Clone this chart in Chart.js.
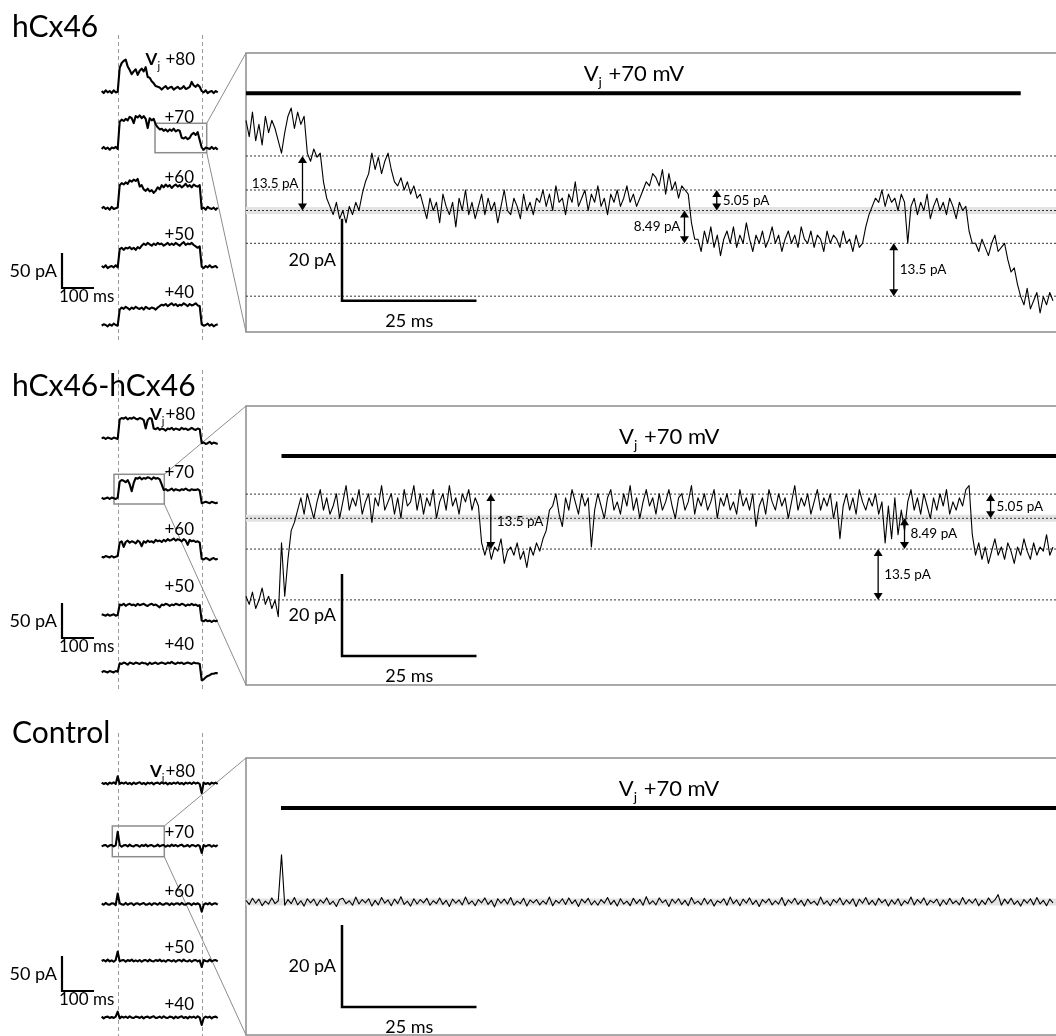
<!DOCTYPE html>
<html>
<head>
<meta charset="UTF-8" />
<title>hCx46 single channel currents</title>
<script src="https://cdn.jsdelivr.net/npm/chart.js"></script>
<style>
  html, body { margin: 0; padding: 0; background: #fff; overflow: hidden; }
  #fig { display: block; }
</style>
</head>
<body>
<canvas id="fig" width="1056" height="1036"></canvas>
<script>
  // ---- data -------------------------------------------------------------
  // small traces: pA above holding level, one sample every 6.25 ms
  const smallDt = 6.25;
  const smallPulse = [52, 312.5];          // ms from trace start
  const vjSteps = ['+80', '+70', '+60', '+50', '+40'];

  // hCx46
  const hc80 = [1,-2,2,-1,1,-2,2,-1,0,
    34,41,44,46,36,31,25,29,32,24,30,33,29,35,21,20,15,12,8,7,6,3,6,8,4,6,7,3,5,7,4,5,8,4,5,7,14,9,7,10,7,
    1,-1,2,-2,0,1,-2,1,-1];
  const hc70 = [-1,2,-1,1,-2,1,0,2,-1,
    38,41,39,42,40,45,43,36,46,44,47,43,46,42,29,43,40,42,34,30,27,28,25,27,24,27,25,28,24,26,25,15,14,16,13,15,20,22,19,23,12,
    1,-2,1,0,-1,2,-1,1,-2];
  const hc60 = [0,2,-1,1,-2,2,-1,0,1,
    33,36,34,37,35,40,38,41,39,42,31,33,27,25,28,24,26,22,25,30,27,33,30,34,31,33,29,32,34,31,33,30,32,35,31,33,30,34,32,31,33,
    -1,1,-2,2,0,-1,1,-2,1];
  const hc50 = [1,-1,2,-2,0,1,-1,2,-1,
    25,27,24,27,26,28,25,27,24,28,26,30,33,31,34,32,30,33,31,34,32,33,30,32,34,31,33,31,34,32,30,33,35,31,33,32,34,31,29,27,29,
    0,-2,1,-1,2,-1,0,1,-2];
  const hc40 = [-1,1,0,-2,1,-1,2,0,-1,
    22,25,23,26,24,22,25,23,26,24,23,25,22,26,24,23,25,24,22,25,27,29,28,30,27,29,31,28,30,27,29,28,31,29,27,30,28,29,31,28,27,
    1,-1,0,2,-1,1,-2,0,1];

  // hCx46-hCx46
  const gj80 = [0,1,-1,1,0,-1,1,0,-1,
    27,29,28,30,27,29,28,30,28,27,29,28,26,14,26,29,28,14,13,15,12,14,13,11,14,13,15,12,14,13,12,15,13,14,12,13,15,13,12,14,13,
    -7,-6,-8,-7,-5,-8,-6,-7,-8];
  const gj70 = [1,-1,0,1,-1,1,0,-1,1,
    24,26,25,23,26,20,10,22,29,28,30,27,29,28,30,29,27,30,28,29,27,20,12,13,11,12,14,11,13,12,11,13,12,14,12,11,13,12,12,13,11,
    -7,-6,-5,-6,-7,-5,-6,-7,-6];
  const gj60 = [0,-1,1,0,-1,1,-1,0,1,
    20,22,14,21,23,20,22,21,19,23,21,15,22,20,23,21,22,20,24,22,23,21,24,22,25,23,24,26,23,25,24,22,25,23,17,24,22,23,21,22,20,
    -3,-4,-2,-3,-5,-3,-2,-4,-3];
  const gj50 = [1,0,-1,1,-1,0,1,-1,0,
    15,14,16,13,15,16,14,15,13,16,14,15,16,14,13,15,16,14,15,13,11,15,14,16,15,13,15,14,16,15,14,16,15,13,15,14,16,14,15,13,14,
    -8,-9,-7,-9,-8,-10,-8,-9,-8];
  const gj40 = [-1,1,0,-1,1,0,-1,1,0,
    12,11,13,12,10,13,12,11,13,12,11,13,12,12,10,13,11,12,13,11,12,13,12,11,13,12,14,12,11,13,12,13,11,12,13,12,11,13,12,12,11,
    -12,-11,-8,-6,-5,-3,-3,-2,-2];

  // Control
  const ct80 = [1,-1,0.5,-1.5,1,-0.5,1.5,-1, 10,
    -1,1,-0.5,1.5,-1,0.5,-1.5,1,-1,0.5, 1.5,-1,0.5,-1.5,1,-0.5,1,-1.5,0.5,1,
    -1,1.5,-0.5,1,-1.5,0.5,-1,1,-0.5,1.5, -1,0.5,-1.5,1,-0.5,1,-1,1.5,-0.5,1, -1,
    -14, 1,-1,0.5,-1.5,1,-0.5,1,-1];
  const ct70 = [-1,0.5,1,-1.5,0.5,1,-1,0.5, 20,
    1,-1.5,0.5,1,-1,1.5,-0.5,-1,1,0.5, -1.5,1,-0.5,1.5,-1,0.5,1,-1,-0.5,1.5,
    -1,0.5,1,-1.5,0.5,-1,1.5,-0.5,1,-1, 0.5,1.5,-1,-0.5,1,-1.5,1,0.5,-1,1, -0.5,
    -10.5, 1,-1,0.5,1,-1.5,0.5,-1,1];
  const ct60 = [0.5,-1,1.5,-0.5,-1,1,0.5,-1.5, 15,
    1,-0.5,-1,1.5,-1,0.5,1,-1.5,0.5,1, -1,0.5,1.5,-1,-0.5,1,-1.5,1,0.5,-1,
    1.5,-0.5,-1,1,0.5,-1.5,1,-1,0.5,1, -1,1.5,-0.5,-1,1,0.5,-1.5,1,-0.5,1, -1,
    -11, -1,1,-0.5,1.5,-1,0.5,1,-1];
  const ct50 = [-0.5,1,-1,1.5,-1,0.5,-1.5,1, 13,
    -1,0.5,1,-1.5,1,-0.5,1.5,-1,0.5,-1, 1,-1.5,0.5,1,-1,1.5,-0.5,-1,1,-0.5,
    1.5,-1,0.5,-1.5,1,0.5,-1,1,-1.5,0.5, 1,-1,1.5,-0.5,-1,1,-1.5,0.5,1,-1, 0.5,
    -9, 1,-0.5,-1,1.5,-1,0.5,1,-1];
  const ct40 = [1,-1.5,0.5,1,-1,0.5,-1,1, 8,
    -1.5,1,-0.5,1,-1,1.5,-0.5,-1,1,0.5, -1,1,-1.5,0.5,1,-1,0.5,1.5,-1,-0.5,
    1,-1,1.5,-0.5,-1,1,0.5,-1.5,1,-1, 0.5,1.5,-1,0.5,-1.5,1,-0.5,1,-1,1.5, -0.5,
    -11, -1,1,-0.5,1,-1.5,0.5,1,-1];

  // expanded +70 mV records: pA from the grey reference level, one sample every 0.6 ms
  const zoomDt = 0.6;
  const hcZoom = [22,18,24,17,21,16,23,19,22,20,17,14,19,23,25,20,24,21,23,
    14,12,15,13,14, 7,3, 1,-1,2,-2,0,-3,1,-1,2,0, 4,7,9, 14,10,13,9,12,14,10, 7, 6,8,5,7,4,6,3,4,
    1,-2,3,0,2,-3,4,1,-1,2,-4,3,0,5,-1,2,-2,1,4,-1,3,0,2,-3,1,5,0,-1,3,1,-2,4,0,2,-1,3,
    2,5,1,4,0,6,2,3,-1,4,2,7,1,3,5,0,4,2,6,1,3,-1,4,2,5,1,3,6,2,4,1,3,
    5,7,6,9,8, 6,10,4,9,5,7,3,6,5,4, -3,-7,
    -7,-10,-5,-8,-4,-9,-6,-11,-7,-5,-8,-4,-9,-6,-8,-3,-7,-10,-6,-8,-5,-9,-7,-4,-8,-6,-10,-7,-5,-8,
    -6,-9,-4,-7,-8,-5,-9,-6,-7,-10,-5,-8,-6,-7,-9,-5,-8,-7,-10,-6,-9,-8,
    -4,-1,1,3, 2,5,1,4,2,3,0,4,2, -8, 1,3,-1,2,0,4,-2,1,3,0,2,-1,3,1,-2,2,0,1,
    -5,-8, -8,-10,-7,-9,-11,-8,-6,-10,-9,-8, -12,-15,-14,-18,
    -21,-23,-19,-24,-22,-20,-25,-21,-23,-20,-22];
  const gjZoom = [-19,-21,-18,-22,-20,-17,-21,-19,-22,-20, -24,-6,-19, -10,-3,-1,
    2,5,1,6,3,0,4,7,2,5,1,3,6,0,4,8,2,5,3,7,1,4,6,-1,5,3,8,2,4,6,1,5,0,7,3,4,8,2,6,1,5,3,7,0,4,6,2,8,3,5,1,6,4,7,2,5,3,
    -6, -9,-6,-10,-7,-8,-5,-11,-8,-7,-9,-6,-10,-8,-12,-7,-9,-6,-8,-5, -3,2,
    3,6,1,-2,5,2,7,4,1,6, 3,5,-7,2,6,3,0,5,7,2, 4,1,6,3,8,2,5,0,4,7, 3,5,1,6,2,4,7,3,0,5,
    6,2,4,8,1,5,3,6,2,4, 7,0,5,3,6,2,4,1,7,3, 5,2,6,-2,3,5,1,7,4,2, 6,3,5,0,4,8,2,5,3,6,
    1,4,7,2,5,3,6,0,4,-5, 3,6,2,5,1,7,4,2,5,3, 6,1,4,-6,3,-5,5,-4,2,-3, 4,7,2,5,1,6,3,0,5,2,
    6,3,7,1,4,2,5,3,7,
    8,-4,
    -9,-6,-10,-7,-11,-8,-5,-9,-7,-10,-6,-8,-11,-7,-9,-5,-8,-10,-6,-9,-7,-8,-4,-9,-7];
  const ctZoom = [0.4,-0.6,0.9,-0.3,0.7,-0.9,0.2,-0.5,1.0,-0.4,
    0.3,11.5,-0.8,0.6,-0.4,1.1,-0.7,0.3,-1.0,0.8, -0.2,0.7,-0.9,0.5,-0.3,1.0,-0.6,0.2,-1.1,0.6,
    0.9,-0.4,0.3,-0.8,1.2,-0.5,0.6,-0.2,0.8,-1.0, 0.4,-0.7,1.1,-0.3,0.5,-0.9,0.7,-0.4,1.3,-0.6,
    0.2,-1.0,0.8,-0.5,0.6,-0.2,0.9,-0.8,0.3,-0.4, 1.0,-0.6,0.4,-1.1,0.7,-0.3,0.5,-0.7,1.2,-0.5,
    0.3,-0.9,0.6,-0.2,1.0,-0.6,0.4,-1.2,0.8,-0.3, 0.7,-0.5,1.1,-0.8,0.2,-0.4,0.9,-1.0,0.5,-0.2,
    0.6,-0.7,0.3,-0.5,1.2,-0.9,0.4,-0.3,0.8,-0.6, 1.0,-0.4,0.5,-1.1,0.7,-0.2,0.9,-0.7,0.3,-0.8,
    0.6,-0.3,1.1,-0.6,0.4,-1.0,0.8,-0.5,0.2,-0.9, 0.9,-0.4,0.6,-0.8,1.3,-0.5,0.3,-0.7,1.0,-0.2,
    0.5,-1.1,0.7,-0.3,0.8,-0.6,0.4,-0.9,1.1,-0.4, 0.2,-0.7,0.9,-0.5,0.6,-1.0,0.3,-0.2,0.8,-0.8,
    1.2,-0.4,0.5,-0.9,0.7,-0.3,1.0,-0.6,0.4,-1.1, 0.6,-0.2,0.8,-0.7,0.3,-0.5,1.1,-0.9,0.5,-0.3,
    0.9,-0.6,0.4,-1.0,0.7,-0.4,0.2,-0.8,1.2,-0.5, 0.3,-0.9,0.6,-0.2,1.0,-0.7,0.5,-0.4,0.8,-1.1,
    0.7,-0.3,1.1,-0.6,0.4,-0.8,0.9,-0.2,0.6,-1.0, 0.5,-0.5,0.8,-0.9,0.3,-0.4,1.2,-0.7,0.6,-0.3,
    1.0,-0.8,0.4,-0.2,0.7,-1.0,0.5,-0.6,0.9,-0.4, 0.3,-0.7,1.1,-0.5,0.6,-0.3,0.8,-0.9,0.4,-0.6,
    1.0,-0.2,0.5,1.8,-0.8,0.7,-0.4,0.9,-0.6,0.3, -1.0,0.6,-0.3,0.8,-0.7,1.1,-0.5,0.4,-0.9,0.7, -0.2];

  // current levels (pA) and Vj pulse (ms) in the expanded records
  const hcLevels = [13.3, 5.0, 0, -8.0, -20.9];
  const gjLevels = [5.9, 0, -7.5, -19.9];
  const hcPulse = [0, 144];
  const gjPulse = [6.6, 152];
  const ctPulse = [6.5, 152];
  // transitions: [time ms, from pA, to pA, label]
  const hcArrows = [[10.5, 13.3, 0, '13.5 pA'], [87.5, 5.0, 0, '5.05 pA'], [81.5, 0, -8.0, '8.49 pA'], [120.4, -8.0, -20.9, '13.5 pA']];
  const gjArrows = [[45.5, 5.9, -7.5, '13.5 pA'], [138.4, 5.9, 0, '5.05 pA'], [122.4, 0, -7.5, '8.49 pA'], [117.5, -7.5, -19.9, '13.5 pA']];

  // ---- layout -----------------------------------------------------------
  const W = 1056, H = 1036;
  const PX_MS_S = 0.32, PX_PA_S = 0.7, SMALL_X0 = 101.7;
  const PX_MS_Z = 5.38, PX_PA_Z = 4.1, ZOOM_X0 = 246;
  const FONT = 'Lato, "Open Sans", sans-serif';

  const panels = [
    { title: 'hCx46', titleY: 37, small: [hc80, hc70, hc60, hc50, hc40], gap: ' ',
      base: [91.7, 148.3, 208.3, 266.7, 325], labelY: [65, 123, 183, 240, 298],
      zoom: hcZoom, band: 210.5, levels: hcLevels, pulse: hcPulse, arrows: hcArrows,
      sides: ['left', 'right', 'left', 'right'],
      barY: 93.3, boxTop: 53, boxBottom: 332, rect: [155, 123.3, 206.7, 152.7],
      dash: [35, 340], sbS: 288, sbZ: 300.7 },
    { title: 'hCx46-hCx46', titleY: 396, small: [gj80, gj70, gj60, gj50, gj40], gap: '',
      base: [438.3, 498.3, 556.7, 615, 671.7], labelY: [420, 478, 535, 592, 650],
      zoom: gjZoom, band: 518.3, levels: gjLevels, pulse: gjPulse, arrows: gjArrows,
      sides: ['right', 'right', 'right', 'right'],
      barY: 456, boxTop: 406, boxBottom: 685, rect: [114, 474.3, 164.3, 504],
      dash: [370, 690], sbS: 638, sbZ: 656 },
    { title: 'Control', titleY: 742.7, small: [ct80, ct70, ct60, ct50, ct40], gap: '',
      base: [783.3, 845.7, 904, 960.7, 1017.3], labelY: [777, 838, 897, 953, 1010],
      zoom: ctZoom, band: 902, levels: [], pulse: ctPulse, arrows: [], sides: [],
      barY: 808, boxTop: 758, boxBottom: 1035, rect: [112.3, 826, 164.3, 856.7],
      dash: [733, 1036], sbS: 991, sbZ: 1007 }
  ];

  const xZmax = (W - ZOOM_X0) / PX_MS_Z;

  function lineSet(points, xAxisID, yAxisID, extra) {
    return Object.assign({
      data: points, xAxisID, yAxisID,
      borderColor: '#000', borderWidth: 1, pointRadius: 0, tension: 0,
      fill: false, borderJoinStyle: 'round', order: 0
    }, extra);
  }

  const datasets = [];
  panels.forEach(p => {
    p.small.forEach((vals, k) => {
      const off = -p.base[k] / PX_PA_S;
      datasets.push(lineSet(vals.map((v, i) => ({ x: i * smallDt, y: v + off })), 'xS', 'yS', { borderWidth: 2.1 }));
    });
    const offZ = -p.band / PX_PA_Z;
    datasets.push(lineSet(p.zoom.map((v, i) => ({ x: i * zoomDt, y: v + offZ })), 'xZ', 'yZ', { borderWidth: 1.1 }));
    p.levels.forEach(L => {
      datasets.push(lineSet([{ x: 0, y: L + offZ }, { x: xZmax, y: L + offZ }], 'xZ', 'yZ',
        { borderColor: '#333', borderDash: [2, 2], order: 2 }));
    });
    datasets.push(lineSet([{ x: 0, y: offZ }, { x: xZmax, y: offZ }], 'xZ', 'yZ',
      { borderColor: '#e3e3e3', borderWidth: 7, order: 3 }));
  });

  // ---- drawing helpers --------------------------------------------------
  function vjText(ctx, x, y, size, weight, tail, align) {
    const main = weight + ' ' + size + 'px ' + FONT;
    const sub = Math.round(size * 0.64) + 'px ' + FONT;
    const plain = size + 'px ' + FONT;
    ctx.font = main; const wV = ctx.measureText('V').width;
    ctx.font = sub; const wj = ctx.measureText('j').width;
    ctx.font = plain; const wt = ctx.measureText(tail).width;
    const total = wV + wj + wt;
    const x0 = align === 'center' ? x - total / 2 : x - total;
    ctx.textAlign = 'left'; ctx.textBaseline = 'alphabetic';
    ctx.font = main; ctx.fillText('V', x0, y);
    ctx.font = sub; ctx.fillText('j', x0 + wV, y + size * 0.28);
    ctx.font = plain; ctx.fillText(tail, x0 + wV + wj + 1, y);
  }

  function arrow(ctx, x, ya, yb) {
    const top = Math.min(ya, yb), bot = Math.max(ya, yb), hw = 4.5, hh = 7;
    ctx.lineWidth = 1.3;
    ctx.beginPath(); ctx.moveTo(x, top + hh - 1); ctx.lineTo(x, bot - hh + 1); ctx.stroke();
    ctx.beginPath(); ctx.moveTo(x, top); ctx.lineTo(x - hw, top + hh); ctx.lineTo(x + hw, top + hh); ctx.closePath(); ctx.fill();
    ctx.beginPath(); ctx.moveTo(x, bot); ctx.lineTo(x - hw, bot - hh); ctx.lineTo(x + hw, bot - hh); ctx.closePath(); ctx.fill();
  }

  const figurePlugin = {
    id: 'figure',
    beforeDatasetsDraw(chart) {
      const ctx = chart.ctx, xS = chart.scales.xS;
      ctx.save();
      panels.forEach(p => {
        // pulse markers on the small traces
        ctx.strokeStyle = '#9a9a9a'; ctx.lineWidth = 1; ctx.setLineDash([4, 3]);
        smallPulse.forEach(t => {
          const x = Math.round(xS.getPixelForValue(t)) + 0.5;
          ctx.beginPath(); ctx.moveTo(x, p.dash[0]); ctx.lineTo(x, p.dash[1]); ctx.stroke();
        });
        ctx.setLineDash([]);
        // expanded box, selection box and connectors
        ctx.strokeStyle = '#8c8c8c'; ctx.lineWidth = 1.5;
        ctx.strokeRect(ZOOM_X0, p.boxTop, W + 40 - ZOOM_X0, p.boxBottom - p.boxTop);
        const [x1, y1, x2, y2] = p.rect;
        ctx.strokeRect(x1, y1, x2 - x1, y2 - y1);
        ctx.lineWidth = 1;
        ctx.beginPath();
        ctx.moveTo(x2, y1); ctx.lineTo(ZOOM_X0, p.boxTop);
        ctx.moveTo(x2, y2); ctx.lineTo(ZOOM_X0, p.boxBottom);
        ctx.stroke();
      });
      ctx.restore();
    },
    afterDatasetsDraw(chart) {
      const ctx = chart.ctx, { xS, yS, xZ, yZ } = chart.scales;
      const len100 = xS.getPixelForValue(100) - xS.getPixelForValue(0);
      const len50 = yS.getPixelForValue(0) - yS.getPixelForValue(50);
      const len25 = xZ.getPixelForValue(25) - xZ.getPixelForValue(0);
      const len20 = yZ.getPixelForValue(0) - yZ.getPixelForValue(20);
      ctx.save();
      ctx.fillStyle = '#000'; ctx.strokeStyle = '#000';
      panels.forEach(p => {
        const offZ = -p.band / PX_PA_Z;
        // title
        ctx.font = '30px ' + FONT; ctx.textAlign = 'left'; ctx.textBaseline = 'alphabetic';
        ctx.fillText(p.title, 12, p.titleY);
        // step labels
        vjSteps.forEach((s, k) => {
          if (k === 0) {
            vjText(ctx, 194, p.labelY[k], 17, 'bold', p.gap + s, 'right');
          } else {
            ctx.font = '17px ' + FONT; ctx.textAlign = 'right'; ctx.textBaseline = 'alphabetic';
            ctx.fillText(s, 194, p.labelY[k]);
          }
        });
        // small-trace scale bar
        ctx.lineWidth = 2.2; ctx.lineCap = 'butt';
        ctx.beginPath(); ctx.moveTo(62, p.sbS - len50); ctx.lineTo(62, p.sbS); ctx.lineTo(62 + len100, p.sbS); ctx.stroke();
        ctx.font = '18px ' + FONT; ctx.textAlign = 'right'; ctx.textBaseline = 'middle';
        ctx.fillText('50 pA', 57, p.sbS - len50 / 2 + 1);
        ctx.font = '17px ' + FONT; ctx.textAlign = 'left'; ctx.textBaseline = 'alphabetic';
        ctx.fillText('100 ms', 59, p.sbS + 14);
        // Vj pulse bar
        const bx0 = xZ.getPixelForValue(p.pulse[0]), bx1 = xZ.getPixelForValue(p.pulse[1]);
        ctx.lineWidth = 4;
        ctx.beginPath(); ctx.moveTo(bx0, p.barY); ctx.lineTo(bx1, p.barY); ctx.stroke();
        vjText(ctx, (bx0 + Math.min(bx1, W)) / 2, p.barY - 12, 22, 'normal', ' +70 mV', 'center');
        // expanded scale bar
        ctx.lineWidth = 2.5;
        ctx.beginPath(); ctx.moveTo(342, p.sbZ - len20); ctx.lineTo(342, p.sbZ); ctx.lineTo(342 + len25, p.sbZ); ctx.stroke();
        ctx.font = '18px ' + FONT; ctx.textAlign = 'right'; ctx.textBaseline = 'middle';
        ctx.fillText('20 pA', 336, p.sbZ - len20 / 2);
        ctx.textAlign = 'center';
        ctx.fillText('25 ms', 342 + len25 / 2, p.sbZ + 20);
        // transition arrows
        p.arrows.forEach((a, k) => {
          const x = xZ.getPixelForValue(a[0]);
          const ya = yZ.getPixelForValue(a[1] + offZ), yb = yZ.getPixelForValue(a[2] + offZ);
          arrow(ctx, x, ya, yb);
          ctx.font = '13.5px ' + FONT; ctx.textBaseline = 'middle';
          const left = p.sides[k] === 'left';
          ctx.textAlign = left ? 'right' : 'left';
          ctx.fillText(a[3], left ? x - 4 : x + 6, (ya + yb) / 2);
        });
      });
      ctx.restore();
    }
  };

  new Chart(document.getElementById('fig'), {
    type: 'line',
    data: { datasets },
    options: {
      responsive: false,
      maintainAspectRatio: false,
      animation: false,
      devicePixelRatio: 1,
      events: [],
      layout: { padding: 0 },
      plugins: { legend: { display: false }, tooltip: { enabled: false } },
      scales: {
        xS: { type: 'linear', axis: 'x', display: false, bounds: 'data',
              min: -SMALL_X0 / PX_MS_S, max: (W - SMALL_X0) / PX_MS_S },
        yS: { type: 'linear', axis: 'y', display: false, bounds: 'data',
              min: -H / PX_PA_S, max: 0 },
        xZ: { type: 'linear', axis: 'x', display: false, bounds: 'data',
              min: -ZOOM_X0 / PX_MS_Z, max: xZmax },
        yZ: { type: 'linear', axis: 'y', display: false, bounds: 'data',
              min: -H / PX_PA_Z, max: 0 }
      }
    },
    plugins: [figurePlugin]
  });
</script>
</body>
</html>
